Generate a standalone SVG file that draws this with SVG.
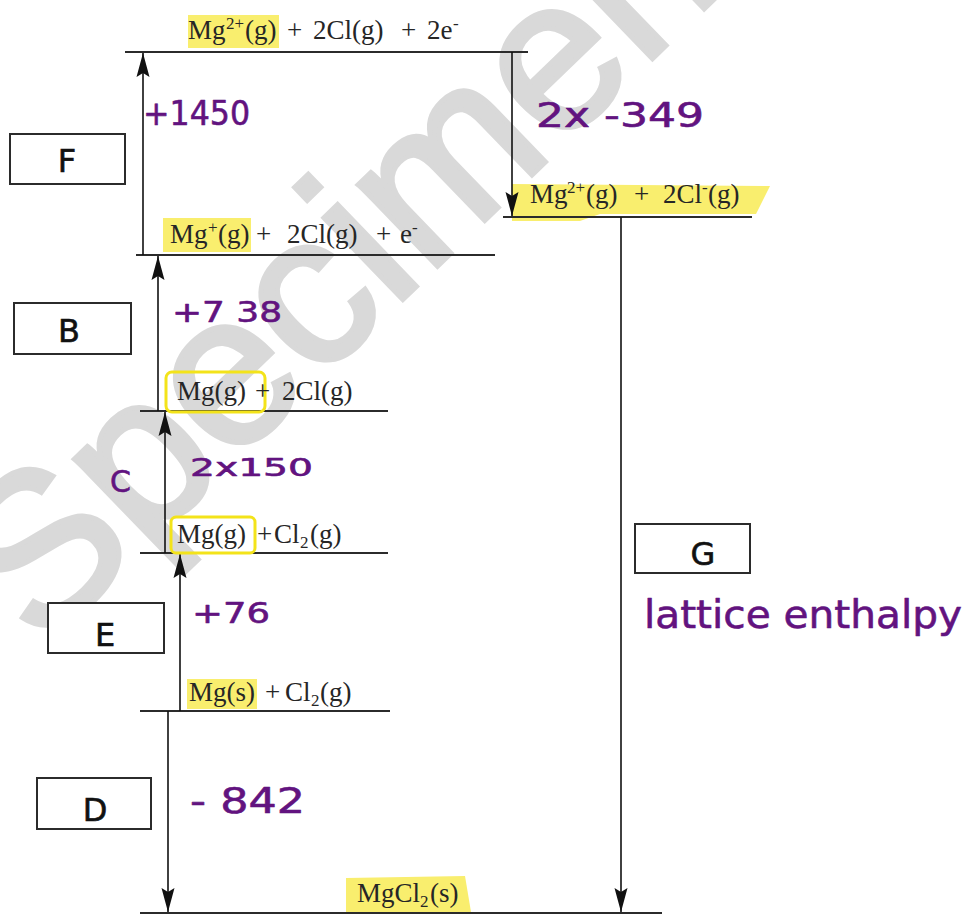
<svg xmlns="http://www.w3.org/2000/svg" width="964" height="915" viewBox="0 0 964 915">
  <defs>
    <marker id="head" viewBox="0 -7 24 14" refX="24" refY="0" markerWidth="24" markerHeight="14" markerUnits="userSpaceOnUse" orient="auto">
      <path d="M0,-6.5 L24,0 L0,6.5 L4,0 z" fill="#111"/>
    </marker>
    <style>
      .level { stroke: #2b2b2b; stroke-width: 2; fill: none; }
      .arrow { stroke: #111; stroke-width: 1.6; fill: none; marker-end: url(#head); }
      .box { fill: #fff; stroke: #2b2b2b; stroke-width: 2; }
      .chem { font-family: "Liberation Serif", "Times New Roman", serif; font-size: 27px; fill: #262626; }
      .sup { font-size: 17px; }
      .hand { font-family: "DejaVu Sans", sans-serif; fill: #62137f; stroke: #62137f; stroke-width: 0.6; stroke-linejoin: round; }
      .tag { font-family: "DejaVu Sans", sans-serif; font-size: 32px; fill: #111; stroke: #111; stroke-width: 0.6; text-anchor: middle; }
      .hl { fill: #f9ee6e; }
      .hlbox { fill: none; stroke: #f3e31a; stroke-width: 3; }
    </style>
  </defs>

  <rect width="964" height="915" fill="#fff"/>

  <!-- watermark -->
  <text x="40" y="650" transform="rotate(-44 40 650)" font-family="Liberation Sans, Arial, sans-serif" font-size="215" fill="#d9d9d9" stroke="#d9d9d9" stroke-width="5">Specimen</text>

  <!-- yellow highlights behind labels -->
  <g id="highlights">
    <rect class="hl" x="188" y="15" width="91" height="33"/>
    <polygon class="hl" points="512,184 770,186 756,214 600,214 580,221 512,221"/>
    <rect class="hl" x="163" y="218" width="88" height="34"/>
    <rect class="hl" x="187" y="679" width="70" height="30"/>
    <polygon class="hl" points="346,878 465,876 471,912 346,912"/>
  </g>

  <!-- energy levels -->
  <g id="levels">
    <line class="level" x1="125" y1="52" x2="528" y2="52"/>
    <line class="level" x1="503" y1="217" x2="752" y2="217"/>
    <line class="level" x1="136" y1="255" x2="495" y2="255"/>
    <line class="level" x1="140" y1="411" x2="388" y2="411"/>
    <line class="level" x1="140" y1="553" x2="388" y2="553"/>
    <line class="level" x1="140" y1="711" x2="390" y2="711"/>
    <line class="level" x1="140" y1="913" x2="662" y2="913"/>
  </g>

  <!-- connectors -->
  <g id="connectors">
    <line class="arrow" x1="143" y1="255" x2="143" y2="53"/>
    <line class="arrow" x1="512" y1="52" x2="512" y2="216"/>
    <line class="arrow" x1="158" y1="411" x2="158" y2="256"/>
    <line class="arrow" x1="165" y1="553" x2="165" y2="412"/>
    <line class="arrow" x1="180" y1="711" x2="180" y2="554"/>
    <line class="arrow" x1="168" y1="711" x2="168" y2="912"/>
    <line class="arrow" x1="621" y1="217" x2="621" y2="912"/>
  </g>

  <!-- level labels -->
  <g id="level-top">
    <text class="chem" y="39"><tspan x="188">Mg</tspan><tspan class="sup" x="226" dy="-10">2+</tspan><tspan x="245" dy="10">(g)</tspan><tspan x="287">+</tspan><tspan x="313">2Cl(g)</tspan><tspan x="401">+</tspan><tspan x="427">2e</tspan><tspan class="sup" x="453" dy="-10">-</tspan></text>
  </g>
  <g id="level-ions">
    <text class="chem" y="203"><tspan x="530">Mg</tspan><tspan class="sup" x="567" dy="-10">2+</tspan><tspan x="586" dy="10">(g)</tspan><tspan x="634">+</tspan><tspan x="663">2Cl</tspan><tspan class="sup" x="702" dy="-10">-</tspan><tspan x="708" dy="10">(g)</tspan></text>
  </g>
  <g id="level-mgplus">
    <text class="chem" y="243"><tspan x="170">Mg</tspan><tspan class="sup" x="208" dy="-10">+</tspan><tspan x="218" dy="10">(g)</tspan><tspan x="256">+</tspan><tspan x="287">2Cl(g)</tspan><tspan x="376">+</tspan><tspan x="400">e</tspan><tspan class="sup" x="412" dy="-10">-</tspan></text>
  </g>
  <g id="level-atoms">
    <rect class="hlbox" x="166" y="372" width="99" height="40" rx="6"/>
    <text class="chem" y="400"><tspan x="177">Mg(g)</tspan><tspan x="255">+</tspan><tspan x="282">2Cl(g)</tspan></text>
  </g>
  <g id="level-mg-gas">
    <rect class="hlbox" x="171" y="517" width="84" height="36" rx="5"/>
    <text class="chem" y="543"><tspan x="177">Mg(g)</tspan><tspan x="257">+</tspan><tspan x="274">Cl</tspan><tspan class="sup" x="300" dy="5">2</tspan><tspan x="310" dy="-5">(g)</tspan></text>
  </g>
  <g id="level-elements">
    <text class="chem" y="701"><tspan x="189">Mg(s)</tspan><tspan x="265">+</tspan><tspan x="285">Cl</tspan><tspan class="sup" x="311" dy="5">2</tspan><tspan x="320" dy="-5">(g)</tspan></text>
  </g>
  <g id="level-product">
    <text class="chem" y="902"><tspan x="357">MgCl</tspan><tspan class="sup" x="420" dy="5">2</tspan><tspan x="430" dy="-5">(s)</tspan></text>
  </g>

  <!-- step boxes -->
  <g id="box-F"><rect class="box" x="10" y="134" width="115" height="50"/><text class="tag" x="67" y="172">F</text></g>
  <g id="box-B"><rect class="box" x="14" y="303" width="117" height="51"/><text class="tag" x="69" y="342">B</text></g>
  <g id="box-E"><rect class="box" x="48" y="603" width="116" height="50"/><text class="tag" x="105" y="646">E</text></g>
  <g id="box-D"><rect class="box" x="37" y="778" width="114" height="51"/><text class="tag" x="95" y="821">D</text></g>
  <g id="box-G"><rect class="box" x="635" y="524" width="115" height="49"/><text class="tag" x="703" y="565">G</text></g>

  <!-- handwritten values -->
  <g id="notes">
    <text class="hand" x="143" y="125" font-size="34" textLength="107" lengthAdjust="spacingAndGlyphs">+1450</text>
    <text class="hand" x="536" y="127" font-size="33" textLength="168" lengthAdjust="spacingAndGlyphs">2x -349</text>
    <text class="hand" x="172" y="322" font-size="28" textLength="110" lengthAdjust="spacingAndGlyphs">+7 38</text>
    <text class="hand" x="110" y="492" font-size="30">C</text>
    <text class="hand" x="190" y="476" font-size="24" textLength="123" lengthAdjust="spacingAndGlyphs">2x150</text>
    <text class="hand" x="192" y="623" font-size="29" textLength="78" lengthAdjust="spacingAndGlyphs">+76</text>
    <text class="hand" x="190" y="813" font-size="35" textLength="115" lengthAdjust="spacingAndGlyphs">- 842</text>
    <text class="hand" x="644" y="628" font-size="39" textLength="318" lengthAdjust="spacingAndGlyphs">lattice enthalpy</text>
  </g>
</svg>
